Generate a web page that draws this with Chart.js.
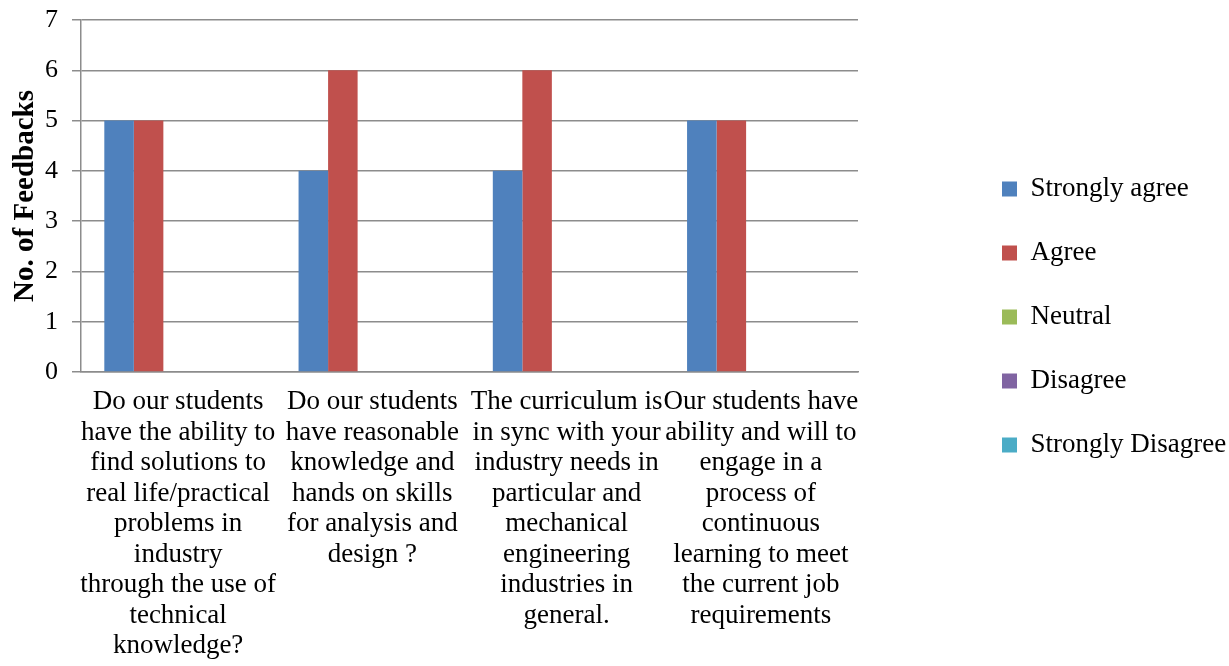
<!DOCTYPE html>
<html lang="en">
<head>
  <meta charset="UTF-8">
  <title>Feedbacks</title>
  <style>
    body { margin: 0; background: #fff; }
  </style>
</head>
<body>
<canvas id="grafico" width="1229" height="666"></canvas>

<script src="https://cdn.jsdelivr.net/npm/chart.js"></script>
<script>
  // categories (one array of lines per question)
  const preguntas = [
    ['Do our students', 'have the ability to', 'find solutions to', 'real life/practical', 'problems in', 'industry', 'through the use of', 'technical', 'knowledge?'],
    ['Do our students', 'have reasonable', 'knowledge and', 'hands on skills', 'for analysis and', 'design ?'],
    ['The curriculum is', 'in sync with your', 'industry needs in', 'particular and', 'mechanical', 'engineering', 'industries in', 'general.'],
    ['Our students have', 'ability and will to', 'engage in a', 'process of', 'continuous', 'learning to meet', 'the current job', 'requirements']
  ];

  const stronglyAgree = [5, 4, 4, 5];
  const agree = [5, 6, 6, 5];
  const neutral = [0, 0, 0, 0];
  const disagree = [0, 0, 0, 0];
  const stronglyDisagree = [0, 0, 0, 0];

  const yTicks = [0, 1, 2, 3, 4, 5, 6, 7];

  const serif = "'Liberation Serif', 'Times New Roman', serif";
  Chart.defaults.font.family = serif;
  Chart.defaults.color = '#000';

  const gris = '#8c8c8c';

  const ctx = document.getElementById('grafico').getContext('2d');
  new Chart(ctx, {
    type: 'bar',
    data: {
      labels: preguntas,
      datasets: [
        { label: 'Strongly agree', data: stronglyAgree, backgroundColor: '#4F81BD' },
        { label: 'Agree', data: agree, backgroundColor: '#C0504D' },
        { label: 'Neutral', data: neutral, backgroundColor: '#9BBB59' },
        { label: 'Disagree', data: disagree, backgroundColor: '#8064A2' },
        { label: 'Strongly Disagree', data: stronglyDisagree, backgroundColor: '#4BACC6' }
      ]
    },
    options: {
      responsive: false,
      animation: false,
      categoryPercentage: 0.76,
      barPercentage: 1,
      layout: {
        padding: { top: 20, right: 0, bottom: 0, left: 0 }
      },
      plugins: {
        tooltip: { enabled: false },
        legend: {
          position: 'right',
          align: 'start',
          maxWidth: 264,
          // empty title only used to push the items down
          title: { display: true, text: '', padding: 53.25, font: { size: 10 } },
          labels: {
            boxWidth: 15,
            boxHeight: 15,
            padding: 37,
            color: '#000',
            font: { size: 27, family: serif }
          }
        }
      },
      scales: {
        x: {
          grid: { display: false, drawTicks: false },
          border: { display: true, color: gris, width: 1.5 },
          ticks: {
            autoSkip: false,
            maxRotation: 0,
            minRotation: 0,
            padding: 15,
            color: '#000',
            font: { size: 27, family: serif, lineHeight: 1.13 }
          },
          afterFit: (scale) => { scale.height = 294; }
        },
        y: {
          min: 0,
          max: 7,
          afterBuildTicks: (scale) => { scale.ticks = yTicks.map(v => ({ value: v })); },
          grid: { color: gris, lineWidth: 1.5, tickLength: 9 },
          border: { display: true, color: gris, width: 1.5 },
          ticks: {
            padding: 14,
            color: '#000',
            font: { size: 26, family: serif }
          },
          title: {
            display: true,
            text: 'No. of Feedbacks',
            color: '#000',
            padding: { top: 8, bottom: 0 },
            font: { size: 29, weight: 'bold', family: serif }
          },
          afterFit: (scale) => {
            scale.width = 81;
            scale.paddingTop = 0;
            scale.paddingBottom = 0;
          }
        },
        hueco: {
          position: 'right',
          display: true,
          grid: { display: false, drawTicks: false },
          border: { display: false },
          ticks: { display: false },
          afterFit: (scale) => { scale.width = 107; }
        }
      }
    }
  });
</script>
</body>
</html>
